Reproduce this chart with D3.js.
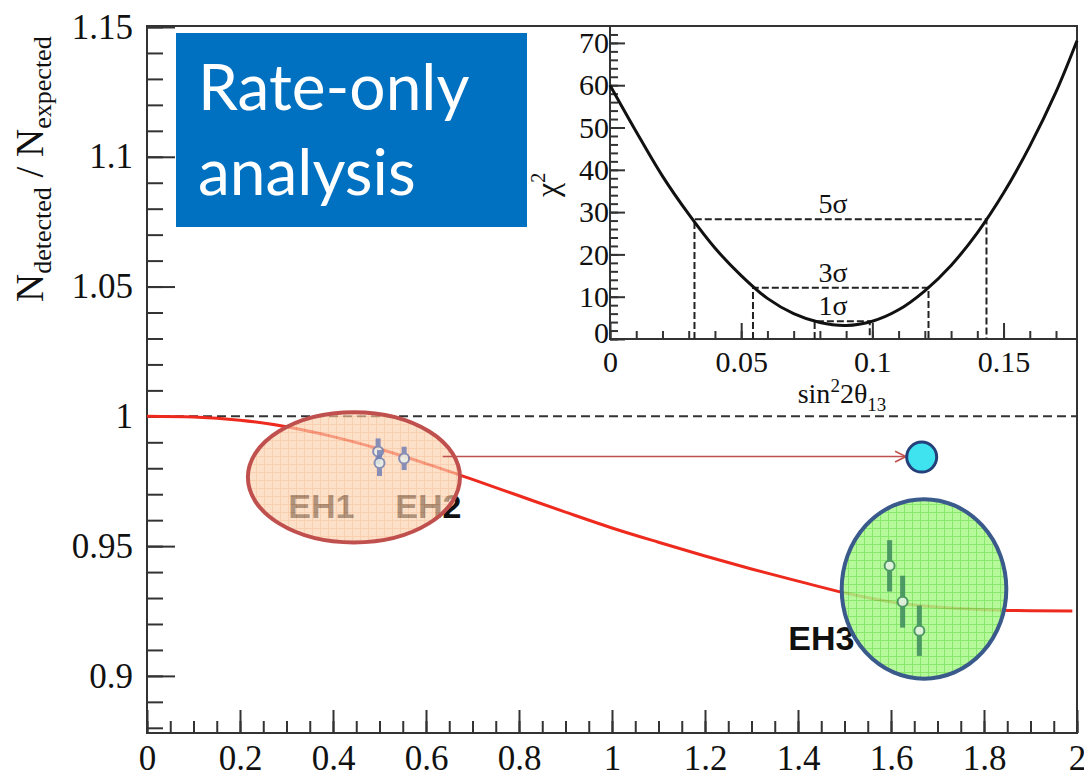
<!DOCTYPE html>
<html>
<head>
<meta charset="utf-8">
<script src="https://cdn.jsdelivr.net/npm/d3@7"></script>
<style>
body { margin: 0; background: #fff; }
text { font-family: "Liberation Serif", "Times New Roman", serif; }
</style>
</head>
<body>
<div id="chart"></div>
<script>
var WIDTH = 1084;
var HEIGHT = 777;

// main curve: expected ratio vs baseline/energy
var curveX = [0, 0.1, 0.2, 0.3, 0.4, 0.5, 0.6, 0.7, 0.8, 0.9, 1.0, 1.1, 1.2, 1.3, 1.4, 1.5, 1.6, 1.7, 1.8, 1.9, 1.99];
var curveY = [1.0, 0.9997, 0.9985, 0.996, 0.9922, 0.9874, 0.9818, 0.9757, 0.9694, 0.9631, 0.957, 0.9515, 0.9462, 0.9412, 0.9365, 0.932, 0.9285, 0.9265, 0.9255, 0.9251, 0.925];

// measured points per hall
var pointHall = ['EH1', 'EH1', 'EH2', 'EH3', 'EH3', 'EH3'];
var pointX = [0.497, 0.500, 0.553, 1.597, 1.625, 1.661];
var pointY = [0.9865, 0.982, 0.9838, 0.9424, 0.9286, 0.9174];
var pointErr = [0.005, 0.005, 0.0045, 0.0099, 0.010, 0.0097];

var hallLabels = ['EH1', 'EH2', 'EH3'];
var hallLabelX = [0.304, 0.534, 1.379];
var hallLabelY = [0.9608, 0.9608, 0.910];

var xTicks = [0, 0.2, 0.4, 0.6, 0.8, 1, 1.2, 1.4, 1.6, 1.8, 2];
var xLabels = ['0', '0.2', '0.4', '0.6', '0.8', '1', '1.2', '1.4', '1.6', '1.8', '2'];
var yTicks = [0.9, 0.95, 1, 1.05, 1.1, 1.15];
var yLabels = ['0.9', '0.95', '1', '1.05', '1.1', '1.15'];

// inset: chi2 scan
var chiX = [0, 0.01, 0.02, 0.03, 0.04, 0.05, 0.06, 0.07, 0.08, 0.09, 0.10, 0.11, 0.12, 0.13, 0.14, 0.15, 0.16, 0.17, 0.178];
var chiY = [60, 49, 38.5, 29.5, 21.5, 15, 9.6, 6.0, 3.9, 3.2, 4.2, 6.9, 11.4, 17.4, 25.1, 34.5, 45.6, 58.4, 70.5];
var sigmaNames = ['1σ', '3σ', '5σ'];
var sigmaLevel = [4.2, 12.1, 28.3];
var sigmaLo = [0.078, 0.0545, 0.0322];
var sigmaHi = [0.099, 0.1214, 0.1435];
var insetXTicks = [0, 0.05, 0.1, 0.15];
var insetXLabels = ['0', '0.05', '0.1', '0.15'];
var insetYTicks = [0, 10, 20, 30, 40, 50, 60, 70];

var svg = d3.select('#chart').append('svg')
  .attr('width', WIDTH)
  .attr('height', HEIGHT);

var x = d3.scaleLinear().domain([0, 2]).range([147, 1077]);
var y = d3.scaleLinear().domain([0.878, 1.15]).range([733, 27]);

var defs = svg.append('defs');
function gridPattern(id, base, line) {
  var p = defs.append('pattern').attr('id', id)
    .attr('patternUnits', 'userSpaceOnUse').attr('width', 8).attr('height', 8);
  p.append('rect').attr('width', 8).attr('height', 8).attr('fill', base);
  p.append('path').attr('d', 'M0 0.5H8M0.5 0V8').attr('stroke', line).attr('stroke-width', 1);
}
gridPattern('peach', '#fbd1ae', '#f4b98c');
gridPattern('green', '#a9f889', '#72e452');

defs.append('marker').attr('id', 'arrow')
  .attr('viewBox', '0 0 10 10').attr('refX', 9).attr('refY', 5)
  .attr('markerWidth', 9).attr('markerHeight', 9).attr('orient', 'auto')
  .append('path').attr('d', 'M1 1L9 5L1 9').attr('fill', 'none')
  .attr('stroke', '#c0504d').attr('stroke-width', 1.2);

// frame
svg.append('rect')
  .attr('x', x(0)).attr('y', 26)
  .attr('width', x(2) - x(0)).attr('height', y(0.878) - 26)
  .attr('fill', 'none').attr('stroke', '#333').attr('stroke-width', 2);

// axes
function styleAxis(g) {
  g.select('.domain').remove();
  g.selectAll('line').attr('stroke', '#333').attr('stroke-width', 2);
  g.selectAll('text').attr('fill', '#111').style('font-size', '35px');
}
svg.append('g').attr('transform', 'translate(0,' + y(0.878) + ')')
  .call(d3.axisBottom(x).tickValues(d3.range(0, 41).map(function(v) { return v * 0.05; })).tickSize(-12).tickFormat(''))
  .call(styleAxis);
svg.append('g').attr('transform', 'translate(0,' + y(0.878) + ')')
  .call(d3.axisBottom(x).tickValues(xTicks).tickSize(-23).tickPadding(12)
    .tickFormat(function(d, i) { return xLabels[i]; }))
  .call(styleAxis);
svg.append('g').attr('transform', 'translate(' + x(0) + ',0)')
  .call(d3.axisLeft(y).tickValues(d3.range(88, 116).map(function(v) { return v / 100; })).tickSize(-16).tickFormat(''))
  .call(styleAxis);
svg.append('g').attr('transform', 'translate(' + x(0) + ',0)')
  .call(d3.axisLeft(y).tickValues(yTicks).tickSize(-28).tickPadding(14)
    .tickFormat(function(d, i) { return yLabels[i]; }))
  .call(styleAxis);

// y title
var yt = svg.append('text')
  .attr('transform', 'translate(43,302) rotate(-90)')
  .attr('fill', '#111').style('font-size', '39px');
yt.append('tspan').text('N');
yt.append('tspan').attr('dy', 8).style('font-size', '26px').text('detected');
yt.append('tspan').attr('dy', -8).text(' / N');
yt.append('tspan').attr('dy', 8).style('font-size', '26px').text('expected');

// reference line at 1
svg.append('line')
  .attr('x1', x(0)).attr('x2', x(2)).attr('y1', y(1)).attr('y2', y(1))
  .attr('stroke', '#333').attr('stroke-width', 2).attr('stroke-dasharray', '9,5');

// curve
var line = d3.line()
  .x(function(d, i) { return x(curveX[i]); })
  .y(function(d) { return y(d); })
  .curve(d3.curveMonotoneX);
svg.append('path').datum(curveY)
  .attr('d', line).attr('fill', 'none')
  .attr('stroke', '#ee2a1e').attr('stroke-width', 3);

// hall labels
svg.selectAll('.hall').data(hallLabels).enter().append('text')
  .attr('x', function(d, i) { return x(hallLabelX[i]); })
  .attr('y', function(d, i) { return y(hallLabelY[i]); })
  .style('font-family', '"Liberation Sans", Arial, sans-serif')
  .style('font-weight', 'bold').style('font-size', '34px')
  .attr('fill', '#111').text(function(d) { return d; });

// highlight ellipses
svg.append('ellipse')
  .attr('cx', x(0.445)).attr('cy', y(0.9765))
  .attr('rx', x(0.228) - x(0)).attr('ry', y(1) - y(1.0251))
  .attr('fill', 'url(#peach)').attr('fill-opacity', 0.68)
  .attr('stroke', '#c0504d').attr('stroke-width', 4);
svg.append('ellipse')
  .attr('cx', x(1.671)).attr('cy', y(0.9335))
  .attr('rx', x(0.177) - x(0)).attr('ry', y(1) - y(1.0346))
  .attr('fill', 'url(#green)').attr('fill-opacity', 0.85)
  .attr('stroke', '#3b5a8c').attr('stroke-width', 4);

// points
function ptColor(d, i) { return pointHall[i] === 'EH3' ? '#3c8a5c' : '#7480b4'; }
var pts = svg.selectAll('.pt').data(pointY).enter().append('g').attr('opacity', 0.85);
pts.append('line')
  .attr('x1', function(d, i) { return x(pointX[i]); })
  .attr('x2', function(d, i) { return x(pointX[i]); })
  .attr('y1', function(d, i) { return y(d + pointErr[i]); })
  .attr('y2', function(d, i) { return y(d - pointErr[i]); })
  .attr('stroke', ptColor)
  .attr('stroke-width', 5);
pts.append('circle')
  .attr('cx', function(d, i) { return x(pointX[i]); })
  .attr('cy', function(d) { return y(d); })
  .attr('r', 5)
  .attr('fill', '#e8f0e8')
  .attr('stroke', ptColor)
  .attr('stroke-width', 2);

// arrow to the combined point
svg.append('line')
  .attr('x1', x(0.636)).attr('y1', y(0.9845))
  .attr('x2', x(1.632)).attr('y2', y(0.9845))
  .attr('stroke', '#c0504d').attr('stroke-width', 1.5)
  .attr('marker-end', 'url(#arrow)');
svg.append('circle')
  .attr('cx', x(1.666)).attr('cy', y(0.9843)).attr('r', 15)
  .attr('fill', '#3fe3f0').attr('stroke', '#243f7a').attr('stroke-width', 3);

// inset
var ix = d3.scaleLinear().domain([0, 0.178]).range([610, 1077]);
var iy = d3.scaleLinear().domain([0, 74]).range([339, 26]);

svg.append('rect').attr('x', 528).attr('y', 27).attr('width', 548).attr('height', 381).attr('fill', '#fff');
svg.append('path')
  .attr('d', 'M' + ix(0) + ',26V' + iy(0) + 'H1077')
  .attr('fill', 'none').attr('stroke', '#333').attr('stroke-width', 2);

function styleInset(g) {
  g.select('.domain').remove();
  g.selectAll('line').attr('stroke', '#333').attr('stroke-width', 2);
  g.selectAll('text').attr('fill', '#111').style('font-size', '30px');
}
svg.append('g').attr('transform', 'translate(0,' + iy(0) + ')')
  .call(d3.axisBottom(ix).tickValues(d3.range(0, 18).map(function(v) { return v / 100; })).tickSize(-8).tickFormat(''))
  .call(styleInset);
svg.append('g').attr('transform', 'translate(0,' + iy(0) + ')')
  .call(d3.axisBottom(ix).tickValues(insetXTicks).tickSize(-16).tickPadding(12)
    .tickFormat(function(d, i) { return insetXLabels[i]; }))
  .call(styleInset);
svg.append('g').attr('transform', 'translate(' + ix(0) + ',0)')
  .call(d3.axisLeft(iy).tickValues(d3.range(0, 74, 2)).tickSize(-8).tickFormat(''))
  .call(styleInset);
svg.append('g').attr('transform', 'translate(' + ix(0) + ',0)')
  .call(d3.axisLeft(iy).tickValues(insetYTicks).tickSize(-15).tickPadding(1))
  .call(styleInset)
  .selectAll('text').attr('dy', function(d) { return d === 0 ? '0.1em' : '0.32em'; });

// sigma bands
var sig = svg.selectAll('.sig').data(sigmaLevel).enter().append('g');
sig.append('path')
  .attr('d', function(d, i) {
    return 'M' + ix(sigmaLo[i]) + ',' + iy(0) + 'V' + iy(d) + 'H' + ix(sigmaHi[i]) + 'V' + iy(0);
  })
  .attr('fill', 'none').attr('stroke', '#222').attr('stroke-width', 2)
  .attr('stroke-dasharray', '7,3');
sig.append('text')
  .attr('x', ix(0.085)).attr('y', function(d) { return iy(d) - 6; })
  .attr('text-anchor', 'middle').style('font-size', '28px').attr('fill', '#111')
  .text(function(d, i) { return sigmaNames[i]; });

var chiLine = d3.line()
  .x(function(d, i) { return ix(chiX[i]); })
  .y(function(d) { return iy(d); })
  .curve(d3.curveCatmullRom);
svg.append('path').datum(chiY)
  .attr('d', chiLine).attr('fill', 'none')
  .attr('stroke', '#111').attr('stroke-width', 3);

// inset titles
var ixt = svg.append('text').attr('x', 842).attr('y', 403)
  .attr('text-anchor', 'middle').style('font-size', '28px').attr('fill', '#111');
ixt.append('tspan').text('sin');
ixt.append('tspan').attr('dy', -11).style('font-size', '19px').text('2');
ixt.append('tspan').attr('dy', 11).text('2θ');
ixt.append('tspan').attr('dy', 8).style('font-size', '19px').text('13');

var iyt = svg.append('text')
  .attr('transform', 'translate(558,197) rotate(-90)')
  .style('font-size', '32px').attr('fill', '#111');
iyt.append('tspan').text('χ');
iyt.append('tspan').attr('dy', -13).style('font-size', '20px').text('2');

// blue label box
svg.append('rect').attr('x', 176).attr('y', 33).attr('width', 351).attr('height', 194).attr('fill', '#0070c0');
svg.append('text').attr('x', 198).attr('y', 110)
  .style('font-family', 'Lato, "Open Sans", sans-serif').style('font-size', '64px')
  .attr('fill', '#fff').text('Rate-only');
svg.append('text').attr('x', 198).attr('y', 195)
  .style('font-family', 'Lato, "Open Sans", sans-serif').style('font-size', '64px')
  .attr('fill', '#fff').text('analysis');
</script>
</body>
</html>
